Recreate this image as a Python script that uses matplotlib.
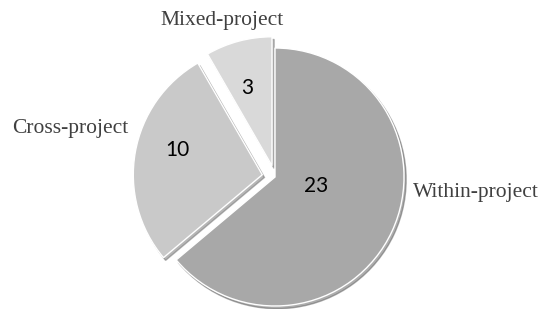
import matplotlib.pyplot as plt

# data
labels = ['Within-project', 'Cross-project', 'Mixed-project']
values = [23, 10, 3]
colors = ['#a8a8a8', '#c9c9c9', '#d9d9d9']
explode = [0.0, 0.1, 0.09]

W, H = 545, 309
cx, cy, r = 275, 177, 129  # pie centre / radius in pixels

fig = plt.figure(figsize=(W / 100, H / 100), dpi=100)
ax = fig.add_axes([0, 0, 1, 1])

wedges, _ = ax.pie(values, colors=colors, explode=explode, startangle=90,
                   counterclock=False, radius=1.0,
                   shadow={'ox': 0.012, 'oy': -0.015, 'shade': 0.45},
                   wedgeprops={'edgecolor': 'white', 'linewidth': 1.0})

# pie() resets the limits, so set them afterwards
ax.set_xlim(-cx / r, (W - cx) / r)
ax.set_ylim(-(H - cy) / r, cy / r)
ax.set_aspect('equal')
ax.axis('off')

def px(x, y):
    return ((x - cx) / r, (cy - y) / r)

# category labels
label_pos = [(476, 193), (70, 128), (222, 20)]
for lab, (x, y) in zip(labels, label_pos):
    ax.text(*px(x, y), lab, ha='center', va='center', fontsize=15.5,
            family='Liberation Serif', color='#404040')

# value labels
value_pos = [(316, 186), (177, 150), (247, 88)]
for v, (x, y) in zip(values, value_pos):
    ax.text(*px(x, y), str(v), ha='center', va='center', fontsize=15,
            family='Lato', color='black')

fig.savefig('out.png', dpi=100)
